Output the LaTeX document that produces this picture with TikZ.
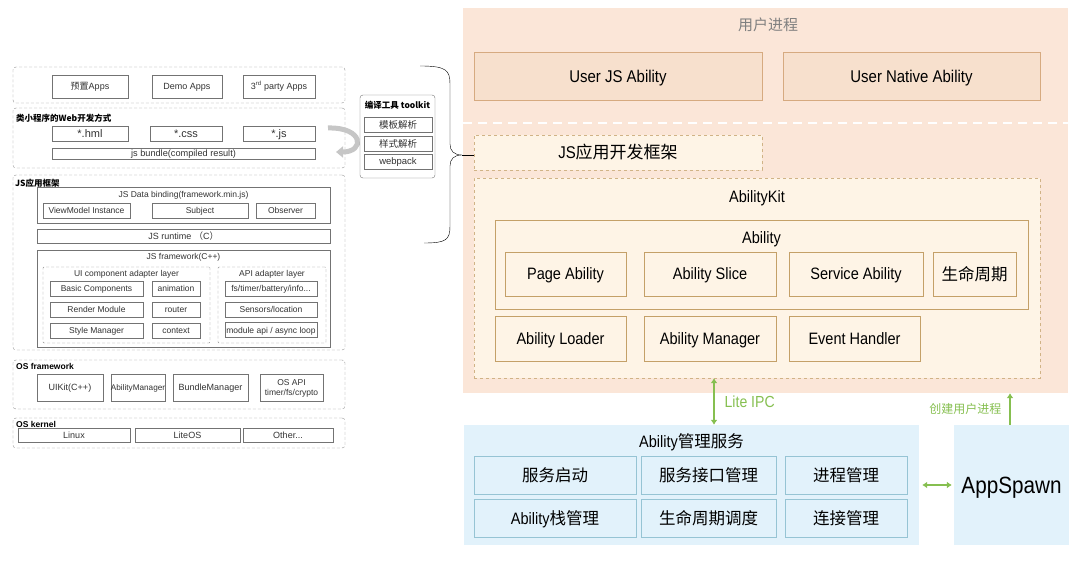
\documentclass[tikz,border=0pt]{standalone}
\usepackage{fontspec}
\setmainfont{Liberation Sans}
\newfontfamily\cjk{Noto Sans CJK SC}
\newfontfamily\narrowsf[FakeStretch=0.88]{Liberation Sans}
\usetikzlibrary{arrows.meta}

\definecolor{peach}{RGB}{251,230,216}
\definecolor{userfill}{RGB}{247,224,205}
\definecolor{userline}{RGB}{214,170,128}
\definecolor{cream}{RGB}{254,244,230}
\definecolor{kitline}{RGB}{196,160,104}
\definecolor{skyfill}{RGB}{226,242,251}
\definecolor{skyline}{RGB}{150,196,212}
\definecolor{ipcgreen}{RGB}{134,191,80}

\begin{document}
\begin{tikzpicture}[x=1pt,y=-1pt,
  sz/.style 2 args={minimum width=#1,minimum height=#2},
  vc/.style={text height=#1,text depth=0pt},
  grp/.style={draw=gray!85,densely dashed,rounded corners=3pt,inner sep=0pt},
  lbox/.style={draw=gray!90!black,fill=white,inner sep=0pt,text=black!80,vc=6.5pt,font=\fontsize{9}{10}\selectfont},
  lsmall/.style={lbox,vc=6.1pt,font=\fontsize{8.5}{9.5}\selectfont},
  ltitle/.style={anchor=west,inner sep=0pt,font=\bfseries\fontsize{8.5}{9}\selectfont},
  lsub/.style={inner sep=0pt,text=black!80,vc=6.1pt,font=\fontsize{8.5}{9}\selectfont},
  ubox/.style={draw=userline,fill=userfill,inner sep=0pt,vc=12.2pt,font=\narrowsf\fontsize{17}{20}\selectfont},
  kbox/.style={draw=kitline,fill=cream,inner sep=0pt,vc=11.9pt,font=\narrowsf\fontsize{16.5}{20}\selectfont},
  kdash/.style={draw=kitline!80,dashed,fill=cream,inner sep=0pt},
  sbox/.style={draw=skyline,fill=skyfill,inner sep=0pt,vc=12.3pt,font=\cjk\fontsize{16.5}{20}\selectfont},
  rtext/.style={inner sep=0pt,vc=11.9pt,font=\narrowsf\fontsize{16.5}{20}\selectfont},
  garrow/.style={draw=ipcgreen,line width=2.6pt,{Latex[length=5pt,width=7pt]}-{Latex[length=5pt,width=7pt]}}]
\useasboundingbox (0,0) rectangle (1080,561);

% ---- left: layered stack
\node (gApps) at (179,85) [grp,sz={332}{36}] {};
\node (gWeb) at (179,138) [grp,sz={332}{60}] {};
\node (gJS) at (179,262.5) [grp,sz={332}{175}] {};
\node (gOSF) at (179,384.5) [grp,sz={332}{49}] {};
\node (gOSK) at (179,433) [grp,sz={332}{30}] {};

\node (preset) at (90,86.5) [lbox,sz={76}{23}] {{\cjk 预置}Apps};
\node (demo) at (187,86.5) [lbox,sz={70}{23}] {Demo Apps};
\node (third) at (279,86.5) [lbox,sz={72}{23}] {3\textsuperscript{rd} party Apps};

\node (tWeb) at (16,118) [ltitle] {\cjk 类小程序的Web开发方式};
\node (hml) at (90,133.5) [lbox,sz={76}{15},vc=7.9pt,font=\fontsize{11}{12}\selectfont] {*.hml};
\node (css) at (186,133.5) [lbox,sz={72}{15},vc=7.9pt,font=\fontsize{11}{12}\selectfont] {*.css};
\node (jsf) at (279,133.5) [lbox,sz={72}{15},vc=7.9pt,font=\fontsize{11}{12}\selectfont] {*.js};
\node (bundle) at (183.5,153.5) [lbox,sz={263}{11},vc=6.6pt,font=\fontsize{9.2}{10}\selectfont] {js bundle(compiled result)};
\coordinate (cvA) at (328,128);
\coordinate (cvB) at (336,152);
\draw[line width=5pt,gray!45,-{Triangle[length=7pt,width=11pt]}] (cvA) .. controls (364,127) and (365,152) .. (cvB);

\node (tJS) at (15,183) [ltitle] {\cjk JS应用框架};
\node (bind) at (183.5,205) [lbox,sz={293}{36}] {};
\node (tBind) at (183.5,194) [lsub] {JS Data binding(framework.min.js)};
\node (vm) at (86.5,210.5) [lsmall,sz={87}{15}] {ViewModel Instance};
\node (subject) at (200,210.5) [lsmall,sz={96}{15}] {Subject};
\node (observer) at (285.5,210.5) [lsmall,sz={59}{15}] {Observer};
\node (runtime) at (183.5,236) [lbox,sz={293}{14}] {JS runtime {\cjk（}C{\cjk ）}};
\node (jsfw) at (183.5,298.5) [lbox,sz={293}{97}] {};
\node (tFw) at (183.5,256) [lsub] {JS framework(C++)};
\node (uiLayer) at (126.5,305) [grp,sz={167}{76},rounded corners=1pt] {};
\node (tUi) at (126.5,273) [lsub] {UI component adapter layer};
\node (basic) at (96.5,288.5) [lsmall,sz={93}{15}] {Basic Components};
\node (anim) at (176,288.5) [lsmall,sz={48}{15}] {animation};
\node (render) at (96.5,309.5) [lsmall,sz={93}{15}] {Render Module};
\node (router) at (176,309.5) [lsmall,sz={48}{15}] {router};
\node (styleMgr) at (96.5,330.5) [lsmall,sz={93}{15}] {Style Manager};
\node (context) at (176,330.5) [lsmall,sz={48}{15}] {context};
\node (apiLayer) at (272,305) [grp,sz={108}{76},rounded corners=1pt] {};
\node (tApi) at (272,273) [lsub] {API adapter layer};
\node (fsTimer) at (271,288.5) [lsmall,sz={92}{15}] {fs/timer/battery/info...};
\node (sensors) at (271,309.5) [lsmall,sz={92}{15}] {Sensors/location};
\node (modApi) at (271,330) [lsmall,sz={92}{15}] {module api / async loop};

\node (tOSF) at (16,366) [ltitle] {OS framework};
\node (uikit) at (70,387.5) [lbox,sz={66}{27}] {UIKit(C++)};
\node (abMgr) at (138,387.5) [lbox,sz={54}{27},vc=5.9pt,font=\fontsize{8.2}{9}\selectfont] {AbilityManager};
\node (bdMgr) at (210.5,387.5) [lbox,sz={75}{27}] {BundleManager};
\node (osApi) at (291.5,387.5) [lbox,sz={63}{27},text height={},align=center,font=\fontsize{8.5}{10}\selectfont] {OS API\\timer/fs/crypto};

\node (tOSK) at (16,424) [ltitle] {OS kernel};
\node (linux) at (74,435) [lbox,sz={112}{14}] {Linux};
\node (liteos) at (187.5,435) [lbox,sz={105}{14}] {LiteOS};
\node (other) at (288,435) [lbox,sz={90}{14}] {Other...};

% ---- toolkit
\node (toolkit) at (397.5,136.5) [draw=gray!90!black,rounded corners=3pt,sz={75}{83}] {};
\node (tTool) at (397.5,105) [inner sep=0pt,font=\cjk\bfseries\fontsize{8.5}{9}\selectfont] {编译工具 toolkit};
\node (tpl) at (398,124.5) [lbox,sz={68}{15},vc=7.2pt,font=\cjk\fontsize{9.5}{10}\selectfont] {模板解析};
\node (sty) at (398,143.5) [lbox,sz={68}{15},vc=7.2pt,font=\cjk\fontsize{9.5}{10}\selectfont] {样式解析};
\node (wpk) at (398,161.5) [lbox,sz={68}{15},vc=6.8pt,font=\fontsize{9.5}{10}\selectfont] {webpack};

% ---- right: user process
\node (userproc) at (765.5,200.5) [fill=peach,sz={605}{385},inner sep=0pt] {};
\node (tUser) at (768,25) [inner sep=0pt,text=gray,font=\cjk\fontsize{15}{18}\selectfont] {用户进程};
\node (ujs) at (618,76) [ubox,sz={288}{48}] {User JS Ability};
\node (unat) at (911.5,76) [ubox,sz={257}{48}] {User Native Ability};
\coordinate (sepL) at (463,123);
\coordinate (sepR) at (1068,123);
\draw[white,line width=2pt,dash pattern=on 9pt off 6pt] (sepL) -- (sepR);

\node (jsdev) at (618,152.5) [kdash,sz={288}{35},vc=12.5pt,font=\narrowsf\fontsize{17}{20}\selectfont] {JS{\cjk 应用开发框架}};
\coordinate (btip) at (462,155);
\draw[thin] (420,66) .. controls (446,66) and (450,70) .. (450,84) -- (450,144)
  .. controls (450,151) and (454,155) .. (btip)
  .. controls (454,155) and (450,159) .. (450,166) -- (450,226)
  .. controls (450,240) and (446,243) .. (424,243);
\draw[thin] (btip) -- (btip -| jsdev.west);

\node (akit) at (757,278) [kdash,sz={566}{200}] {};
\node (tKit) at (757,197) [rtext] {AbilityKit};
\node (ability) at (761.5,264.5) [kbox,sz={533}{89}] {};
\node (tAbility) at (761.5,238) [rtext] {Ability};
\node (page) at (565.5,274) [kbox,sz={121}{44}] {Page Ability};
\node (slice) at (710,274) [kbox,sz={132}{44}] {Ability Slice};
\node (service) at (856,274) [kbox,sz={134}{44}] {Service Ability};
\node (life) at (974.5,274) [kbox,sz={83}{44},vc=12.3pt,font=\cjk\fontsize{16.5}{20}\selectfont] {生命周期};
\node (loader) at (560.5,338.5) [kbox,sz={131}{45}] {Ability Loader};
\node (aMgr) at (710,338.5) [kbox,sz={132}{45}] {Ability Manager};
\node (event) at (854.5,338.5) [kbox,sz={131}{45}] {Event Handler};

% ---- right: ability management service
\node (ams) at (691.5,485) [fill=skyfill,sz={455}{120},inner sep=0pt] {};
\node (tAms) at (691.5,442) [rtext] {Ability{\cjk 管理服务}};
\node (svcStart) at (555,475.5) [sbox,sz={162}{38}] {服务启动};
\node (svcIf) at (708.5,475.5) [sbox,sz={135}{38}] {服务接口管理};
\node (procMgr) at (846,475.5) [sbox,sz={122}{38}] {进程管理};
\node (stackMgr) at (555,518.5) [sbox,sz={162}{38},font=\narrowsf\fontsize{16.5}{20}\selectfont] {Ability{\cjk 栈管理}};
\node (lifeSch) at (708.5,518.5) [sbox,sz={135}{38}] {生命周期调度};
\node (connMgr) at (846,518.5) [sbox,sz={122}{38}] {连接管理};
\node (spawn) at (1011.5,485) [fill=skyfill,sz={115}{120},inner sep=0pt,vc=16.6pt,font=\narrowsf\fontsize{23.5}{26}\selectfont] {AppSpawn};

% ---- links
\coordinate (ipcX) at (714,400);
\draw[garrow] (akit.south -| ipcX) -- (ams.north -| ipcX)
  node[midway,right=6pt,text=ipcgreen,font=\narrowsf\fontsize{16}{18}\selectfont] {Lite IPC};
\coordinate (spawnX) at (1010,400);
\draw[garrow,{Latex[length=5pt,width=7pt]}-] (userproc.south -| spawnX) -- (spawn.north -| spawnX)
  node[midway,left=4pt,text=ipcgreen,font=\cjk\fontsize{12}{14}\selectfont] {创建用户进程};
\draw[garrow,shorten <=3pt,shorten >=2pt] (ams.east) -- (spawn.west);
\end{tikzpicture}
\end{document}
